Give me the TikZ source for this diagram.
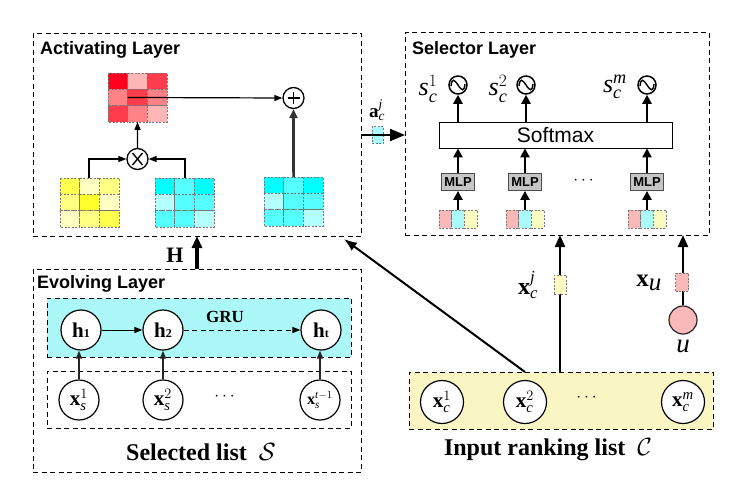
\documentclass[tikz,border=0pt]{standalone}
\usepackage{amsmath}
\usepackage{fontspec}
\setmainfont{Liberation Serif}
\setsansfont{Liberation Sans}
\usetikzlibrary{arrows.meta,calc}
\definecolor{gruc}{RGB}{172,248,248}
\definecolor{inc}{RGB}{250,246,195}
\definecolor{pinkc}{RGB}{250,185,185}
\definecolor{cyanc}{RGB}{170,250,250}
\definecolor{yellowc}{RGB}{250,250,195}
\definecolor{cellgray}{RGB}{120,120,120}
\definecolor{ca}{RGB}{0,255,255}
\definecolor{cb}{RGB}{85,255,255}
\definecolor{cc}{RGB}{180,255,255}
\definecolor{ya}{RGB}{255,255,80}
\definecolor{yb}{RGB}{255,255,195}
\definecolor{yc}{RGB}{255,255,130}
\definecolor{yd}{RGB}{255,255,45}
\definecolor{ra}{RGB}{255,0,30}
\definecolor{rb}{RGB}{255,182,182}
\definecolor{rc}{RGB}{255,60,75}
\definecolor{rd}{RGB}{255,130,135}
\newcommand{\ti}[1]{\text{\itshape #1}}
\newcommand{\tb}[1]{\text{\bfseries #1}}
\newcommand{\cellgrid}[4]{%
  \node[gridframe, anchor=north west] (#1) at (#2,#3) {};
  \foreach \c [count=\i from 0] in {#4}{
    \pgfmathtruncatemacro{\row}{\i/3}
    \pgfmathtruncatemacro{\col}{\i-3*\row}
    \filldraw[fill=\c, cellline] ($(#1.north west)+(\col*19.7,\row*16.3)$) rectangle +(19.7,16.3);
  }}
\newcommand{\tripcells}[3]{%
  \node[tripframe, anchor=north west] (#1) at (#2,#3) {};
  \foreach \c [count=\i from 0] in {pinkc,cyanc,yellowc}{
    \filldraw[fill=\c, cellline] ($(#1.north west)+(\i*12.67,0)$) rectangle +(12.67,18);
  }}
\begin{document}
\begin{tikzpicture}[x=1pt,y=-1pt,
  layerbox/.style={draw, dash pattern=on 5pt off 3.5pt, line width=0.9pt, inner sep=0, outer sep=0, anchor=north west},
  title/.style={font=\sffamily\bfseries\fontsize{18}{18}\selectfont, anchor=west, inner sep=0},
  cellline/.style={draw=cellgray, dash pattern=on 2pt off 1.5pt, line width=0.7pt},
  gridframe/.style={minimum width=59.1pt, minimum height=48.9pt, inner sep=0, outer sep=0},
  tripframe/.style={minimum width=38pt, minimum height=18pt, inner sep=0, outer sep=0},
  thinarrow/.style={line width=1.2pt, -{Triangle[length=8pt,width=6pt]}},
  thickarrow/.style={line width=2.8pt, -{Triangle[length=9pt,width=9pt]}},
  bigarrow/.style={line width=2.2pt, -{Triangle[length=12pt,width=10pt]}},
  mlp/.style={draw=gray!60!black, fill=gray!45, line width=0.8pt, minimum width=33pt, minimum height=17pt, inner sep=0, font=\sffamily\bfseries\fontsize{13}{13}\selectfont},
  sig/.style={circle, draw, line width=1.5pt, minimum size=18pt, inner sep=0},
  opnode/.style={circle, draw, line width=1.3pt, minimum size=21pt, inner sep=0},
  stnode/.style={circle, draw, fill=white, line width=1.2pt, minimum size=40pt, inner sep=0},
  lab/.style={inner sep=0, font=\fontsize{20}{20}\selectfont},
  smallcell/.style={cellline, inner sep=0, outer sep=0}
]
\useasboundingbox (0,0) rectangle (747,490);

% ---------- layer boxes ----------
\node[layerbox, minimum width=328pt, minimum height=203pt] (act) at (33,33) {};
\node[layerbox, minimum width=304pt, minimum height=203pt] (sel) at (405,32) {};
\node[layerbox, minimum width=328pt, minimum height=203pt] (evo) at (33,269) {};
\node[layerbox, fill=gruc, minimum width=304pt, minimum height=59pt] (grub) at (47,298) {};
\node[layerbox, minimum width=304pt, minimum height=57pt] (xsb) at (47,371) {};
\node[layerbox, fill=inc, minimum width=304pt, minimum height=57pt] (inb) at (409,372) {};

\node[title] (tact) at (40,50) {Activating Layer};
\node[title] (tsel) at (412,50) {Selector Layer};
\node[title] (tevo) at (37,284) {Evolving Layer};

% ---------- activating layer ----------
\cellgrid{red}{108}{73}{ra,rb,rc,rd,rc,rd,rc,rd,rb}
\cellgrid{yel}{60}{178}{ya,yb,yc,yc,yd,yb,yb,yc,ya}
\cellgrid{cya}{155}{178}{ca,cb,ca,cc,cb,cb,cb,cb,cc}
\cellgrid{cyb}{264}{177}{ca,cb,ca,cc,cb,cb,cb,cb,cc}

\node[opnode, path picture={\draw[line width=1.4pt] ($(path picture bounding box.center)+(-6,0)$) -- +(12,0) ($(path picture bounding box.center)+(0,-6)$) -- +(0,12);}] (oplus) at (293.5,98) {};
\node[opnode, path picture={\draw[line width=1.4pt] ($(path picture bounding box.center)+(-5,-6)$) -- +(10,12) ($(path picture bounding box.center)+(5,-6)$) -- +(-10,12);}] (otimes) at (137.5,159) {};

\draw[thinarrow] ($(red.center)+(-10,0)$) -- (oplus.west);
\draw[thinarrow] (otimes.north) -- (red.south);
\draw[thinarrow] ($(yel.north west)+(29,0)$) |- (otimes.west);
\draw[thinarrow] ($(cya.north west)+(30,0)$) |- (otimes.east);
\draw[line width=2.6pt, draw=gray!40!black, -{Triangle[length=9pt,width=8pt]}] (cyb.north) -- (oplus.south);

% ---------- selector layer ----------
\node[draw, line width=0.8pt, minimum width=233pt, minimum height=26pt, inner sep=0, font=\sffamily\fontsize{21}{21}\selectfont] (soft) at (555.5,135) {Softmax};
\node[mlp] (m1) at (458,182) {MLP};
\node[mlp] (m2) at (525,182) {MLP};
\node[mlp] (m3) at (647,182) {MLP};
\node[inner sep=0, font=\fontsize{18}{18}\selectfont] (sdots) at (585,181) {$\cdots$};
\tripcells{t1}{439}{210}
\tripcells{t2}{506}{210}
\tripcells{t3}{628}{210}
\foreach \n in {1,2,3}{
  \draw[thickarrow] (t\n.north) -- (m\n.south);
  \draw[thickarrow] (m\n.north) -- (m\n |- soft.south);
}
\node[sig] (s1) at (458,85) {};
\node[sig] (s2) at (526,85) {};
\node[sig] (s3) at (647,85) {};
\foreach \n in {1,2,3}{
  \draw[line width=1.4pt] ($(s\n.center)+(-7,1)$) .. controls +(1,-8) and +(-4,-6) .. (s\n.center) .. controls +(4,6) and +(-1,8) .. ($(s\n.center)+(7,-1)$);
  \draw[thickarrow] (s\n |- soft.north) -- (s\n.south);
}
\node[lab, font=\fontsize{26}{26}\selectfont] (ls1) at (428,89) {$\ti{s}_{\ti{c}}^{1}$};
\node[lab, font=\fontsize{26}{26}\selectfont] (ls2) at (498,89) {$\ti{s}_{\ti{c}}^{2}$};
\node[lab, font=\fontsize{26}{26}\selectfont] (ls3) at (615,87) {$\ti{s}_{\ti{c}}^{\ti{m}}$};

% ---------- a_c^j ----------
\node[smallcell, fill=cyanc, minimum width=11pt, minimum height=17pt, draw] (acell) at (377.5,135) {};
\draw[line width=2pt, -{Triangle[length=15pt,width=12pt]}] (act.east |- acell) -- (sel.west |- acell);
\node[lab, font=\fontsize{19}{19}\selectfont] (alab) at (377,110) {$\tb{a}_{\ti{c}}^{\ti{j}}$};

% ---------- H arrow ----------
\draw[line width=3.2pt, -{Triangle[length=12pt,width=10pt]}] ($(evo.north west)+(164,0)$) -- ($(act.south west)+(164,0)$);
\node[lab, font=\bfseries\fontsize{22}{22}\selectfont] (hlab) at (175,255) {H};

% ---------- evolving layer ----------
\node[stnode, font=\fontsize{21}{21}\selectfont] (h1) at (81,330) {\textbf{h}{\fontsize{12}{12}\selectfont\textbf{1}}};
\node[stnode, font=\fontsize{21}{21}\selectfont] (h2) at (163,330) {\textbf{h}{\fontsize{12}{12}\selectfont\textbf{2}}};
\node[stnode, font=\fontsize{21}{21}\selectfont] (ht) at (321,330) {\textbf{h}{\fontsize{12}{12}\selectfont\textbf{t}}};
\node[inner sep=0, font=\bfseries\fontsize{17}{17}\selectfont] (gru) at (225,317) {GRU};
\draw[thinarrow, line width=1pt] (h1.east) -- (h2.west);
\draw[thinarrow, line width=1pt, dash pattern=on 5pt off 3.5pt] (h2.east) -- (ht.west);

\node[stnode, font=\fontsize{21}{21}\selectfont] (xs1) at (79,400) {$\tb{x}_{\ti{s}}^{1}$};
\node[stnode, font=\fontsize{21}{21}\selectfont] (xs2) at (163,400) {$\tb{x}_{\ti{s}}^{2}$};
\node[stnode, font=\fontsize{16}{16}\selectfont] (xst) at (320,400) {$\tb{x}_{\ti{s}}^{\ti{t}-1}$};
\node[inner sep=0, font=\fontsize{18}{18}\selectfont] (xdots) at (226,397) {$\cdots$};
\foreach \a/\b in {xs1/h1,xs2/h2,xst/ht}{
  \draw[line width=1.5pt, draw=gray!30!black, -{Triangle[length=8pt,width=6pt]}] (\a.north) -- (\a |- \b.south);
}
\node[inner sep=0, font=\bfseries\fontsize{24}{24}\selectfont] (slist) at (201,452) {Selected list\ \ {\fontsize{28}{28}\selectfont$\mathcal{S}$}};

% ---------- input ranking list ----------
\node[stnode, minimum size=43pt, font=\fontsize{21}{21}\selectfont] (xc1) at (442,402) {$\tb{x}_{\ti{c}}^{1}$};
\node[stnode, minimum size=43pt, font=\fontsize{21}{21}\selectfont] (xc2) at (525,402) {$\tb{x}_{\ti{c}}^{2}$};
\node[stnode, minimum size=43pt, font=\fontsize{21}{21}\selectfont] (xcm) at (683,402) {$\tb{x}_{\ti{c}}^{\ti{m}}$};
\node[inner sep=0, font=\fontsize{18}{18}\selectfont] (cdots) at (588,398) {$\cdots$};
\node[inner sep=0, font=\bfseries\fontsize{24}{24}\selectfont] (clist) at (548,450) {Input ranking list\ \ {\fontsize{28}{28}\selectfont$\mathcal{C}$}};

\coordinate (dstart) at ($(inb.north west)+(116,0)$);
\coordinate (dend) at (344,239);
\draw[line width=2pt, -{Latex[length=13pt,width=10pt]}] (dstart) -- (dend);

\coordinate (xjstart) at ($(inb.north west)+(151,0)$);
\draw[bigarrow] (xjstart) -- (xjstart |- sel.south);
\node[smallcell, fill=yellowc, minimum width=12pt, minimum height=19pt, draw] (ycell) at (xjstart |- 0,284.5) {};
\node[lab, font=\fontsize{24}{24}\selectfont] (xjlab) at (528,285) {$\tb{x}_{\ti{c}}^{\ti{j}}$};

\node[circle, draw=gray!30!black, fill=pinkc, line width=1.2pt, minimum size=28pt, inner sep=0] (ucirc) at (683,320) {};
\draw[bigarrow] (ucirc.north) -- (ucirc |- sel.south);
\node[smallcell, fill=pinkc, minimum width=13pt, minimum height=18pt, draw] (pcell) at (682,282) {};
\node[lab, font=\fontsize{25}{25}\selectfont] (xulab) at (649,283) {$\tb{x}_{\textstyle\ti{u}}$};
\node[lab, font=\fontsize{27}{27}\selectfont] (ulab) at (683,346) {\itshape u};
\end{tikzpicture}
\end{document}
